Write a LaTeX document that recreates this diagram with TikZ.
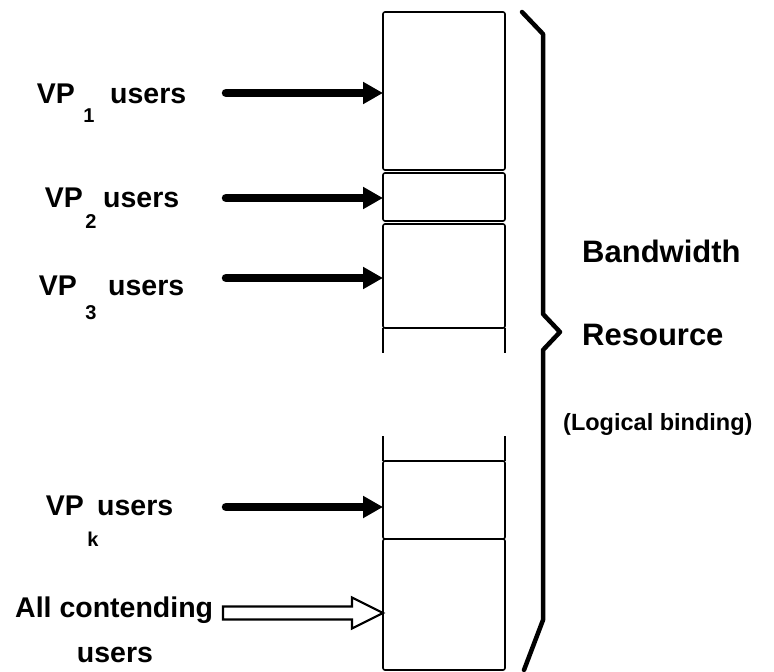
\documentclass[tikz,border=0pt]{standalone}
\usepackage{fontspec}
\setmainfont{Liberation Sans}
\usetikzlibrary{arrows.meta,calc}
\begin{document}
\begin{tikzpicture}[x=1pt,y=-1pt,
 cell/.style={draw, line width=1.6pt, rounded corners=2pt, minimum width=122pt, inner sep=0pt, outer sep=0pt},
 side/.style={line width=1.6pt},
 lbl/.style={font=\fontsize{28.5}{28.5}\selectfont\bfseries, inner sep=0pt},
 sub/.style={font=\fontsize{20}{20}\selectfont\bfseries, inner sep=0pt},
 rlbl/.style={font=\fontsize{31}{31}\selectfont\bfseries, inner sep=0pt, anchor=base west},
 vparrow/.style={line width=8.5pt, line cap=round, -{Triangle[length=20pt,width=21pt]}},
 hollow/.style={line width=2.2pt, line join=miter, fill=white},
 brace/.style={line width=4.5pt, line cap=round, line join=round},
]
\useasboundingbox (0,0) rectangle (774,672);

% cells of the bandwidth column
\node[cell, minimum height=158pt] (c1) at (444,91) {};
\node[cell, minimum height=48pt]  (c2) at (444,197) {};
\node[cell, minimum height=104pt] (c3) at (444,276) {};
\draw[side] (c3.south west) -- ++(0,25);
\draw[side] (c3.south east) -- ++(0,25);
\node[cell, minimum height=78pt]  (ck) at (444,500) {};
\node[cell, minimum height=131pt] (cl) at (444,604.5) {};
\draw[side] (ck.north west) -- ++(0,-25);
\draw[side] (ck.north east) -- ++(0,-25);

% brace
\draw[brace] (522,12) -- (543,34) -- (543,314) -- (560,332) -- (543,350) -- (543,620) -- (524,670);

% left labels
\node[lbl, anchor=base east] (vp1) at (75,103) {VP};
\node[sub] (s1) at (89,116) {1};
\node[lbl, anchor=base west] (u1) at (110,103) {users};

\node[lbl, anchor=base east] (vp2) at (83,207) {VP};
\node[sub] (s2) at (91,222) {2};
\node[lbl, anchor=base west] (u2) at (103,207) {users};

\node[lbl, anchor=base east] (vp3) at (77,295) {VP};
\node[sub] (s3) at (91,313) {3};
\node[lbl, anchor=base west] (u3) at (108,295) {users};

\node[lbl, anchor=base east] (vpk) at (84,515) {VP};
\node[sub] (sk) at (93,539) {k};
\node[lbl, anchor=base west] (uk) at (97,515) {users};

\node[lbl, anchor=base west] (ac) at (15,617) {All contending};
\node[lbl, anchor=base] (u5) at (115,662) {users};

% right labels
\node[rlbl] (bw) at (582,262) {Bandwidth};
\node[rlbl] (rs) at (582,345) {Resource};
\node[font=\fontsize{23.5}{23.5}\selectfont\bfseries, anchor=base west, inner sep=0pt] (lb) at (563,430) {(Logical binding)};

% arrows
\coordinate (a1) at (226,93);
\coordinate (a2) at (226,198);
\coordinate (a3) at (226,278);
\coordinate (ak) at (226,507);
\draw[vparrow] (a1) -- (a1 -| c1.west);
\draw[vparrow] (a2) -- (a2 -| c2.west);
\draw[vparrow] (a3) -- (a3 -| c3.west);
\draw[vparrow] (ak) -- (ak -| ck.west);

\coordinate (h) at (223,613);
\coordinate (ht) at (h -| cl.west);
\draw[hollow] ($(h)+(0,-6.5)$) -- ($(ht)+(-31,-6.5)$) -- ($(ht)+(-31,-15.5)$) -- (ht)
  -- ($(ht)+(-31,15.5)$) -- ($(ht)+(-31,6.5)$) -- ($(h)+(0,6.5)$) -- cycle;
\end{tikzpicture}
\end{document}
